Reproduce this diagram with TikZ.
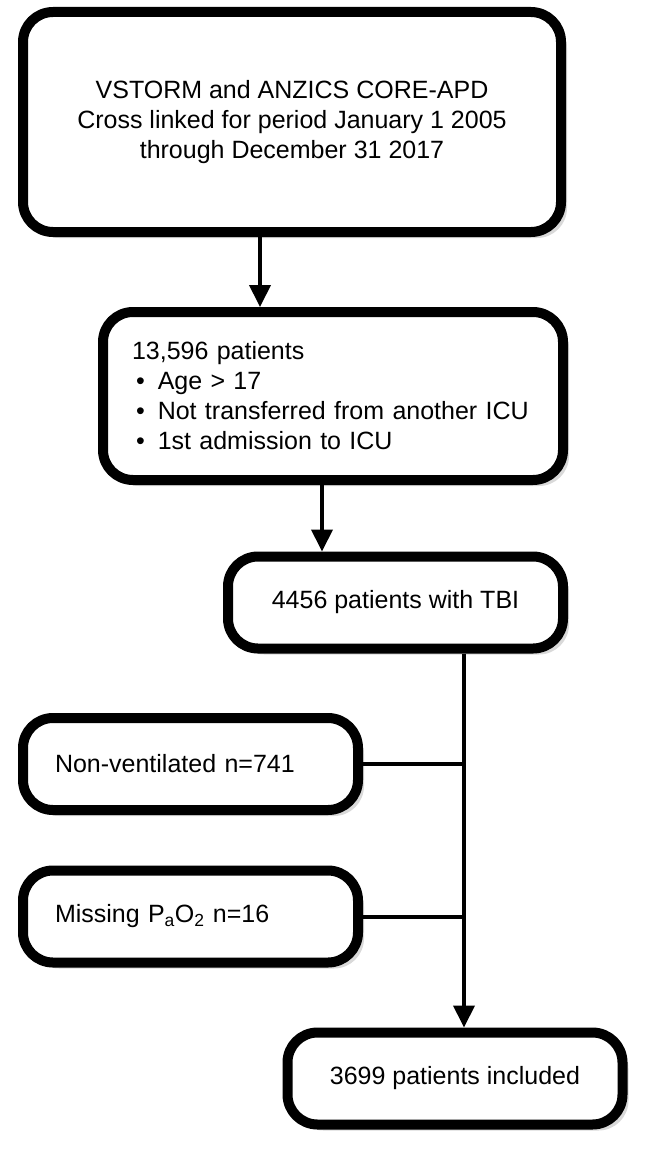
\documentclass[tikz,border=0pt]{standalone}
\usepackage{fontspec}
\setmainfont{Liberation Sans}
\usetikzlibrary{arrows.meta}
\usetikzlibrary{shadows}

\begin{document}
\begin{tikzpicture}[x=1pt,y=-1pt,
    box/.style={draw=black,line width=10pt,rounded corners=30pt,fill=white,
        drop shadow={opacity=0.3,shadow xshift=6pt,shadow yshift=-6pt},
        font=\fontsize{25}{30}\selectfont,inner sep=0pt},
    smallbox/.style={box,minimum width=335pt,minimum height=92pt},
    link/.style={line width=4pt},
    flow/.style={link,-{Triangle[width=21pt,length=22pt]}}]
      \useasboundingbox (0,0) rectangle (646,1161);
      \node[box,minimum width=538pt,minimum height=220pt,align=center] (linked) at (292,122)
            {VSTORM and ANZICS CORE-APD\\Cross linked for period January 1 2005\\through December 31 2017};
      \node[box,minimum width=460pt,minimum height=168pt,text width=402pt,inner xsep=29pt,align=left] (cohort) at (333,396)
            {13,596 patients\\
             \hspace{4pt}\textbullet\hspace{13pt}Age > 17\\
             \hspace{4pt}\textbullet\hspace{13pt}Not transferred from another ICU\\
             \hspace{4pt}\textbullet\hspace{13pt}1st admission to ICU};
      \node[smallbox,align=center] (tbi) at (395.5,602.5) {4456 patients with TBI};
      \node[smallbox,text width=271pt,inner xsep=32pt,align=left] (nonvent) at (190.5,764) {Non-ventilated n=741};
      \node[smallbox,text width=271pt,inner xsep=32pt,align=left] (missing) at (190.5,916.5) {Missing P\textsubscript{a}O\textsubscript{2} n=16};
      \node[smallbox,align=center] (included) at (455,1078.5) {3699 patients included};
      \coordinate (drop1) at (260,0);
      \coordinate (drop2) at (322,0);
      \coordinate (trunk) at (464,0);
      \draw[flow] (linked.south -| drop1) -- (cohort.north -| drop1);
      \draw[flow] (cohort.south -| drop2) -- (tbi.north -| drop2);
      \draw[flow] (tbi.south -| trunk) -- (included.north -| trunk);
      \draw[link] (nonvent.east) -- (nonvent.east -| trunk);
      \draw[link] (missing.east) -- (missing.east -| trunk);
\end{tikzpicture}
\end{document}
